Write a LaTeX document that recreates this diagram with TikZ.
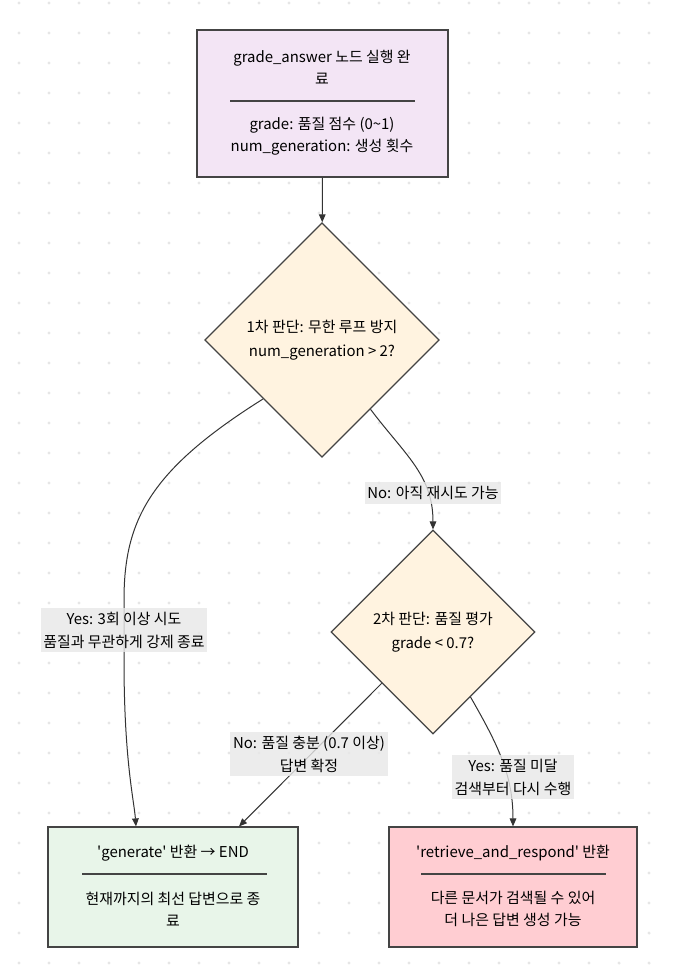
\documentclass[tikz,border=0pt]{standalone}
\usepackage{fontspec}
\setmainfont{Noto Sans CJK KR}
\usetikzlibrary{shapes.geometric,arrows.meta}

\definecolor{edgegray}{HTML}{333333}
\definecolor{boxline}{HTML}{444444}
\definecolor{dotgray}{HTML}{E6E6E6}
\definecolor{startfill}{HTML}{F3E5F5}
\definecolor{decfill}{HTML}{FFF3E0}
\definecolor{endfill}{HTML}{E8F5E9}
\definecolor{retryfill}{HTML}{FFCDD2}
\definecolor{labelfill}{HTML}{E8E8E8}

\tikzset{
  box/.style={draw=boxline, line width=0.9pt, rectangle, inner sep=0pt},
  decision/.style={draw=boxline, line width=0.9pt, diamond, fill=decfill, inner sep=0pt,
    minimum width=176pt, minimum height=176pt, align=center,
    font=\fontsize{11.2}{18}\selectfont},
  txt/.style={align=center, inner sep=0pt, font=\fontsize{11.2}{16.5}\selectfont},
  elabel/.style={align=center, font=\fontsize{11.2}{17.2}\selectfont, fill=labelfill,
    fill opacity=0.8, text opacity=1, inner xsep=2pt, inner ysep=3pt},
  flow/.style={draw=edgegray, line width=0.75pt, -{Triangle[length=6pt,width=5pt]}},
  sep/.style={draw=boxline, line width=1.1pt}
}

\begin{document}
\begin{tikzpicture}[x=0.75pt, y=-0.75pt]
        \useasboundingbox (0,0) rectangle (676,976);
        \fill[white] (0,0) rectangle (676,976);

        % dotted background
        \foreach \i in {0,...,22} {
          \foreach \j in {0,...,32} {
            \fill[dotgray] (19+30*\i, 3+30*\j) circle (1.3pt);
          }
        }

        % Start box
        \node[box, fill=startfill, minimum width=188.25pt, minimum height=110.25pt] (start) at (322.5, 103.5) {};
        \node[txt] (starttitle) at (322, 67) {grade\_answer 노드 실행 완\\료};
        \draw[sep] (230, 101) -- (415, 101);
        \node[txt] (startbody) at (322, 136) {grade: 품질 점수 (0\textasciitilde1)\\num\_generation: 생성 횟수};

        % Decisions
        \node[decision] (loopcheck) at (322, 340) {1차 판단: 무한 루프 방지\\num\_generation > 2?};
        \node[decision, minimum width=153pt, minimum height=153pt] (gradecheck) at (433, 632) {2차 판단: 품질 평가\\grade < 0.7?};

        % End boxes
        \node[box, fill=endfill, minimum width=187.5pt, minimum height=90pt] (gen) at (173, 887) {};
        \node[txt] (gentitle) at (173, 853) {\textquotesingle generate\textquotesingle{} 반환 → END};
        \draw[sep] (82, 874) -- (267, 874);
        \node[txt] (genbody) at (173, 909) {현재까지의 최선 답변으로 종\\료};

        \node[box, fill=retryfill, minimum width=186pt, minimum height=90pt] (retry) at (513, 887) {};
        \node[txt] (retrytitle) at (513, 853) {\textquotesingle retrieve\_and\_respond\textquotesingle{} 반환};
        \draw[sep] (421, 874) -- (606, 874);
        \node[txt] (retrybody) at (513, 909) {다른 문서가 검색될 수 있어\\더 나은 답변 생성 가능};

        % Connectors
        \draw[flow] (start) -- (loopcheck);
        \draw[flow] (loopcheck.south west) .. controls (150, 470) and (124, 520) .. (124, 600)
              -- (124, 660) .. controls (124, 760) and (134, 800) .. (gen.north -| 136, 0);
        \draw[flow] (loopcheck.-55) .. controls (405, 455) and (433, 475) .. (gradecheck.north);
        \draw[flow] (gradecheck.south west) -- (gen.north -| 239, 0);
        \draw[flow] (gradecheck.-60) .. controls (498, 745) and (513, 775) .. (retry.north);

        % Edge labels
        \node[elabel] (yesforce) at (124, 630) {Yes: 3회 이상 시도\\품질과 무관하게 강제 종료};
        \node[elabel] (noretry) at (433, 493) {No: 아직 재시도 가능};
        \node[elabel] (nogood) at (309, 754) {No: 품질 충분 (0.7 이상)\\답변 확정};
        \node[elabel] (yesbad) at (513, 777) {Yes: 품질 미달\\검색부터 다시 수행};
\end{tikzpicture}
\end{document}
